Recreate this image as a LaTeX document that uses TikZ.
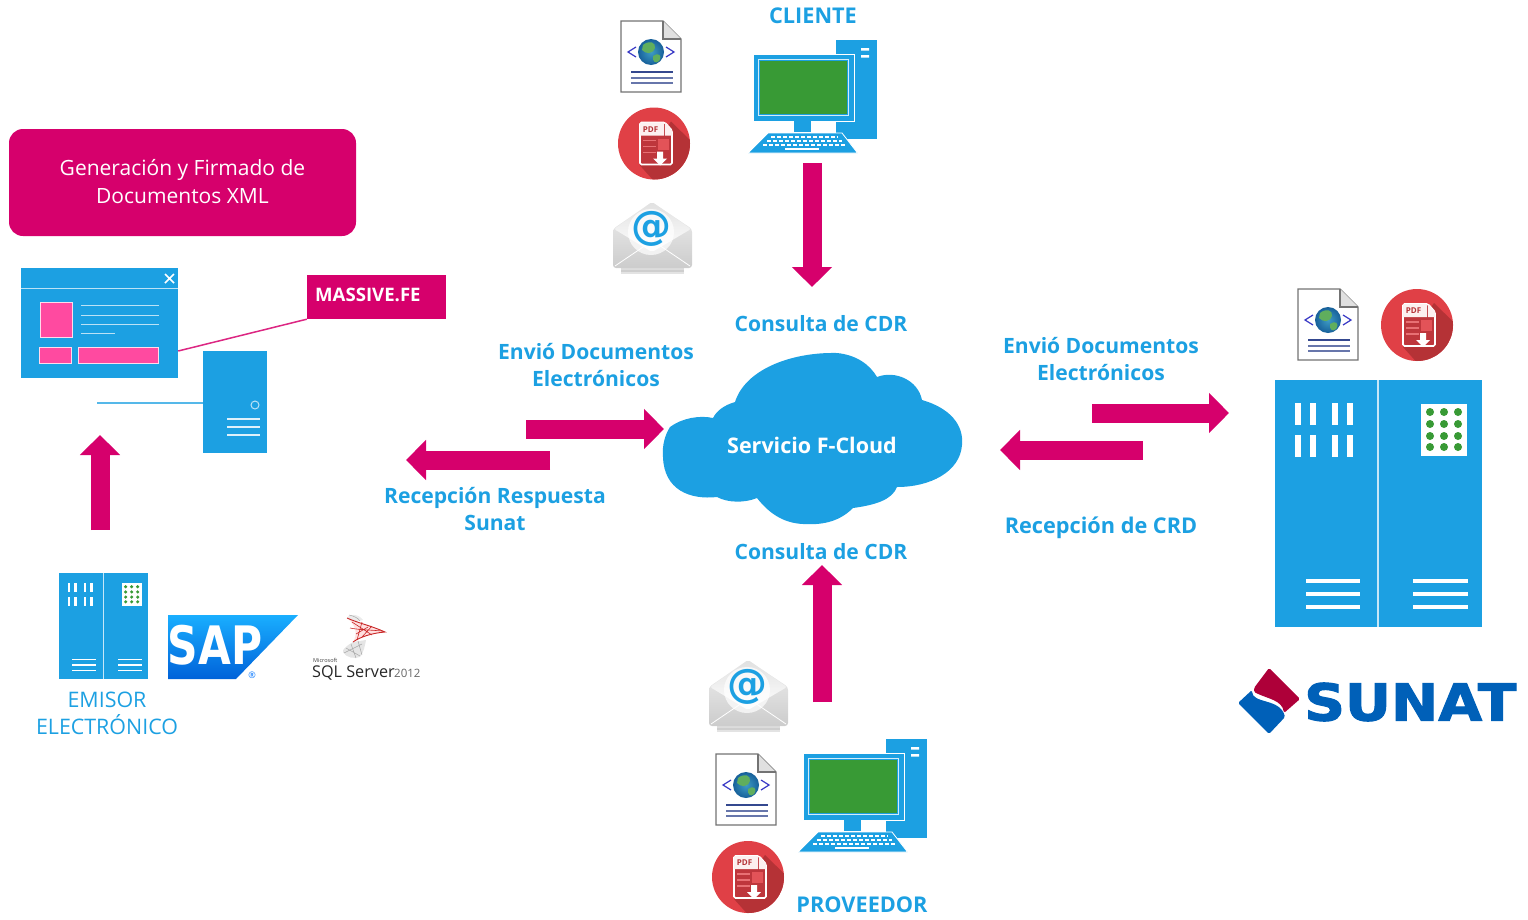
\documentclass[tikz,border=0pt]{standalone}
\usepackage{fontspec}
\setmainfont{Open Sans}
\newfontfamily\logofont{DejaVu Sans}
\newfontfamily\sunatfont[BoldFeatures={FakeBold=2}]{DejaVu Sans}
\usetikzlibrary{arrows.meta,calc}
\definecolor{fblue}{HTML}{1CA0E2}
\definecolor{fpink}{HTML}{D6006C}
\definecolor{flight}{HTML}{FF4AA0}
\definecolor{fgreen}{HTML}{389A35}
\definecolor{fred}{HTML}{E04046}
\definecolor{fdred}{HTML}{B53236}
\definecolor{fnavy}{HTML}{34488F}
\definecolor{sunatblue}{HTML}{0060B8}
\definecolor{sunatred}{HTML}{AE0039}
\definecolor{globein}{HTML}{3E9CC4}
\definecolor{globeout}{HTML}{17609A}
\tikzset{
	blockarrow/.style={draw=fpink, line width=19pt, -{Triangle[length=20pt, width=39pt, fill=fpink]}},
	bluelabel/.style={text=fblue, font=\fontsize{21.1}{27}\selectfont\bfseries, align=center, inner sep=0pt},
	capslabel/.style={text=fblue, font=\fontsize{21.7}{27}\selectfont\bfseries, align=center, inner sep=0pt},
	thinlabel/.style={text=fblue, font=\fontsize{21.4}{27}\selectfont, align=center, inner sep=0pt},
	whiteslat/.style={fill=white, draw=none},
	panelbox/.style={fill=flight, draw=white!80!flight, line width=0.8pt}
}
% document with globe, (#2,#3) is the top left corner
\def\xmlicon#1(#2,#3){
	\begin{scope}[shift={(#2,#3)}]
		\draw[fill=white, draw=black!55, line width=1.3pt] (0,0) -- (42,0) -- (60,18) -- (60,71) -- (0,71) -- cycle;
		\draw[fill=black!12, draw=black!55, line width=1.3pt] (42,0) -- (42,18) -- (60,18);
		\shade[inner color=globein, outer color=globeout] (30,31) circle (13);
		\fill[fgreen!80!white] (22,24) .. controls (28,19) and (35,21) .. (34,27) .. controls (31,34) and (25,33) .. (21,29) -- cycle;
		\fill[fgreen!80!white] (32,35) .. controls (37,31) and (42,34) .. (38,40) .. controls (35,43) and (31,41) .. (32,35) -- cycle;
		\draw[blue!55!gray, line width=1.2pt] (15,26) -- (7,31) -- (15,36);
		\draw[blue!55!gray, line width=1.2pt] (45,26) -- (53,31) -- (45,36);
		\foreach \ypos/\col in {51/fnavy, 57/fnavy!75, 62/fnavy!75}
			\draw[\col, line width=1.2pt] (10,\ypos) -- (52,\ypos);
	\end{scope}
}
% red circle with pdf, (#2,#3) is the centre
\def\pdficon#1(#2,#3){
	\begin{scope}[shift={(#2,#3)}]
		\fill[fred] (0,0) circle (36);
		\begin{scope}
			\clip (0,0) circle (36);
			\fill[fdred] (17,-22) -- (60,20) -- (20,60) -- (-14,22) -- cycle;
		\end{scope}
		\draw[fill=fred!85!black, draw=white, line width=1.6pt, rounded corners=1.5pt] (-14,-21) -- (11,-21) -- (18,-13) -- (18,21) -- (-14,21) -- cycle;
		\fill[white!92!fred] (-14,-21) rectangle (10,-8) (11,-21) -- (18,-13) -- (18,-8) -- (11,-8) -- cycle;
		\node[inner sep=0pt, text=fdred, font=\fontsize{8}{8}\selectfont\bfseries] (#1pdf) at (-3.5,-14) {PDF};
		\fill[fred!90!white] (4,-5) rectangle (15,6);
		\foreach \ypos in {-3,3,9}
			\draw[fred!75!white, line width=1.4pt] (-11,\ypos) -- (2,\ypos);
		\fill[white] (3,8) rectangle (9,15) (-1,15) -- (13,15) -- (6,22) -- cycle;
	\end{scope}
}
% open envelope, (#2,#3) is the top left corner
\def\mailicon#1(#2,#3){
	\begin{scope}[shift={(#2,#3)}]
		\foreach \ypos/\op in {66/0.25, 68/0.35, 70/0.2}
			\fill[black!55, opacity=\op] (8,\ypos) rectangle (71,\ypos+2);
		\shade[top color=black!6, bottom color=black!20, rounded corners=3pt] (0,27) -- (39,0) -- (79,27) -- (79,66) -- (0,66) -- cycle;
		\shade[top color=black!12, bottom color=white, rounded corners=2pt] (1,27) -- (39,0) -- (78,27) -- (39,50) -- cycle;
		\draw[white, line width=0.8pt] (2,64) -- (33,43) (77,64) -- (46,43);
		\fill[white, opacity=0.7] (38,30) circle (23);
		\node[inner sep=0pt, text=fblue, font=\logofont\fontsize{40}{40}\selectfont\bfseries] (#1at) at (38,27) {@};
	\end{scope}
}
% desktop computer, (#2,#3) is the top left corner
\def\pcicon(#1,#2){
	\begin{scope}[shift={(#1,#2)}]
		\fill[fblue] (88,0) rectangle (129,99);
		\fill[white] (113,8) rectangle (121,10.5) (113,15) rectangle (121,17.5);
		\fill[fblue, draw=white, line width=1pt] (5,14) rectangle (106,81);
		\draw[white!80!fblue, line width=1pt] (10,19) rectangle (100,75);
		\fill[fgreen] (12,21) rectangle (99,74);
		\fill[fblue] (46,81) rectangle (63,92);
		\fill[fblue, draw=white, line width=0.8pt] (20,93) -- (94,93) -- (109.5,113) -- (0,113) -- cycle;
		\foreach \ypos/\xa/\xb in {97/23/90, 101/19/94, 105/15/98}
			\draw[white, line width=2pt, dash pattern=on 4pt off 2pt] (\xa,\ypos) -- (\xb,\ypos);
		\draw[white, line width=2pt] (37,109) -- (71,109);
	\end{scope}
}
% rack with two doors
\def\rackicon[#1](#2,#3){
	\begin{scope}[shift={(#2,#3)}, scale=#1]
		\fill[fblue] (0,0) rectangle (207,247);
		\fill[white!75!fblue] (102.2,0) rectangle (104.2,247);
		\foreach \xpos in {20,35,57,72} {
			\fill[whiteslat] (\xpos,23) rectangle ++(6,22);
			\fill[whiteslat] (\xpos,55) rectangle ++(6,22);
		}
		\fill[whiteslat] (146,24) rectangle (192,76);
		\foreach \xpos in {155,169,183}
			\foreach \ypos in {32,44,56,67}
				\fill[fgreen] (\xpos,\ypos) circle (4);
		\foreach \ypos in {201,214,227} {
			\fill[whiteslat] (31,\ypos-2) rectangle (85,\ypos+2);
			\fill[whiteslat] (138,\ypos-2) rectangle (193,\ypos+2);
		}
	\end{scope}
}

\begin{document}
\begin{tikzpicture}[x=1pt, y=-1pt]
	%%%%% START %%%%%
	\useasboundingbox (0,0) rectangle (1528,919);
	
	\node[fill=fpink, rounded corners=14pt, minimum width=347pt, minimum height=107pt, inner sep=0pt] (genbox) at (182.5,182.5) {};
	\node[inner sep=0pt, text=white, align=center, font=\fontsize{21}{28}\selectfont] (gentext) at (182.5,181.5) {Generación y Firmado de\\Documentos XML};
	
	% emisor: window and tower
	\node[fill=fblue, minimum width=157pt, minimum height=110pt, inner sep=0pt] (window) at (99.5,323) {};
	\draw[white!70!fblue, line width=1pt] (window.west |- 0,288) -- (window.east |- 0,288);
	\draw[white, line width=1.6pt] (165,274) -- (174,283) (174,274) -- (165,283);
	\draw[panelbox] (40,302) rectangle (72,337);
	\draw[panelbox] (39,347) rectangle (71,363);
	\draw[panelbox] (78,347) rectangle (158,363);
	\foreach \ypos/\xend in {305/159, 315/159, 324/159, 333/115}
		\draw[white!70!fblue, line width=1pt] (81,\ypos) -- (\xend,\ypos);
	
	\node[fill=fpink, minimum width=139pt, minimum height=44pt, inner sep=0pt] (massive) at (376.5,297) {};
	\node[inner sep=0pt, anchor=west, text=white, font=\fontsize{18.6}{24}\selectfont\bfseries] (massivetext) at (315,295) {MASSIVE.FE};
	\draw[fpink!85!white, line width=1.5pt] (window.east |- 0,351) -- (massive.south west);
	
	\node[fill=fblue, minimum width=64pt, minimum height=102pt, inner sep=0pt] (tower) at (235,402) {};
	\coordinate (towerline) at (97,403);
	\draw[fblue!75!white, line width=1.2pt] (towerline) -- (towerline -| tower.west);
	\draw[white!70!fblue, line width=1pt] (255,405) circle (4);
	\foreach \ypos in {419,427,435}
		\fill[white!85!fblue] (227,\ypos-1.4) rectangle (260,\ypos+1.4);
	
	% emisor: rack and logos
	\rackicon[0.43](59,573)
	\shade[top color=cyan!65!blue!90, bottom color=blue!55!cyan!85!black] (168,615) -- (298,615) -- (236,679) -- (168,679) -- cycle;
	\node[inner sep=0pt, text=white, xscale=0.8, transform shape, font=\logofont\fontsize{53}{53}\selectfont\bfseries] (saptext) at (215,645) {SAP};
	\node[inner sep=0pt, text=blue!55!cyan, font=\fontsize{9}{9}\selectfont] (sapmark) at (252,675) {®};
	
	\fill[black!8] (347,618) .. controls (348,614) and (358,613) .. (363,620) -- (355,622) -- cycle;
	\fill[black!10] (353,642) .. controls (346,646) and (342,650) .. (343,652) .. controls (346,658) and (355,659) .. (360,657) .. controls (364,652) and (365,645) .. (366,640) -- cycle;
	\fill[red!12] (347,618) .. controls (358,623) and (372,626) .. (385,632) .. controls (372,633) and (360,637) .. (353,642) .. controls (358,634) and (356,625) .. (347,618) -- cycle;
	\draw[red!75!black!85, line width=0.9pt] (347,618) .. controls (358,623) and (372,626) .. (385,632) .. controls (372,633) and (360,637) .. (353,642);
	\draw[red!75!black!85, line width=0.6pt] (352,622) -- (372,635) (362,622) -- (357,640) (372,626) -- (362,637) (350,628) .. controls (360,630) and (372,630) .. (382,631) (356,634) -- (368,627);
	\draw[black!35, line width=0.5pt] (349,615) .. controls (354,616) and (358,618) .. (360,621) (346,648) -- (360,656) (344,653) -- (362,644) (351,644) -- (356,658) (358,641) -- (362,655);
	\node[inner sep=0pt, anchor=west, text=black!75, font=\fontsize{5.5}{5.5}\selectfont] (sqlbrand) at (313,660) {Microsoft};
	\node[inner sep=0pt, anchor=base west, text=black!85, font=\fontsize{16.2}{18}\selectfont] (sqltext) at (312,677) {SQL Server};
	\node[inner sep=0pt, anchor=base west, text=black!60, font=\fontsize{11.5}{12}\selectfont] (sqlyear) at (394,677) {2012};
	\node[thinlabel] (emisor) at (107,713) {EMISOR\\ELECTRÓNICO};
	
	% cliente
	\node[capslabel] (cliente) at (813,16) {CLIENTE};
	\xmlicon{cli}(621,21)
	\pdficon{cli}(654,143.5)
	\mailicon{cli}(613,202)
	\pcicon(748,40)
	\coordinate (clistart) at (812,163);
	\coordinate (clitip) at (812,287);
	\draw[blockarrow] (clistart) -- (clitip);
	\node[bluelabel] (consulta) at (821,324) {Consulta de CDR};
	
	% cloud
	\fill[fblue] (670,427) .. controls (682,418) and (700,415) .. (713,418)
		.. controls (717,410) and (725,405) .. (735,402)
		.. controls (745,370) and (790,352) .. (837,353)
		.. controls (857,355) and (870,365) .. (877,377)
		.. controls (895,370) and (918,380) .. (922,400)
		.. controls (950,408) and (964,425) .. (962,445)
		.. controls (960,472) and (930,487) .. (897,487)
		.. controls (892,500) and (875,505) .. (853,508)
		.. controls (838,523) and (820,525) .. (803,524)
		.. controls (782,523) and (768,512) .. (757,498)
		.. controls (745,503) and (728,503) .. (717,497)
		.. controls (690,500) and (664,490) .. (663,457)
		.. controls (662,445) and (665,435) .. (670,427) -- cycle;
	\node[inner sep=0pt, text=white, font=\fontsize{21.5}{27}\selectfont\bfseries] (cloud) at (812,445) {Servicio F-Cloud};
	
	% emisor to cloud
	\node[bluelabel] (envioleft) at (596,365) {Envió Documentos\\Electrónicos};
	\coordinate (envlstart) at (526,429);
	\coordinate (envltip) at (664,429);
	\draw[blockarrow] (envlstart) -- (envltip);
	\coordinate (reclstart) at (550,460);
	\coordinate (recltip) at (406,460);
	\draw[blockarrow] (reclstart) -- (recltip);
	\node[bluelabel] (recepleft) at (495,509.5) {Recepción Respuesta\\Sunat};
	\coordinate (emisorstart) at (100,530);
	\coordinate (emisortip) at (100,435);
	\draw[blockarrow] (emisorstart) -- (emisortip);
	
	% cloud to sunat
	\node[bluelabel] (envioright) at (1101,359) {Envió Documentos\\Electrónicos};
	\coordinate (envrstart) at (1092,413);
	\coordinate (envrtip) at (1229,413);
	\draw[blockarrow] (envrstart) -- (envrtip);
	\coordinate (recrstart) at (1143,450);
	\coordinate (recrtip) at (1000,450);
	\draw[blockarrow] (recrstart) -- (recrtip);
	\node[capslabel] (recepright) at (1101,528) {Recepción de CRD};
	
	% sunat
	\xmlicon{sun}(1298,289)
	\pdficon{sun}(1417,325)
	\rackicon[1](1275,380)
	\fill[sunatred, rounded corners=1.5pt] (1254,688) -- (1269,668) -- (1300,699) -- (1284,713) .. controls (1282,700) and (1268,699) .. (1254,692) -- cycle;
	\fill[sunatblue, rounded corners=1.5pt] (1238,703) -- (1252,690) .. controls (1252,704) and (1280,698) .. (1285,717) -- (1269,734) -- cycle;
	\node[inner sep=0pt, text=sunatblue, anchor=west, xscale=1.11, transform shape, font=\sunatfont\fontsize{51}{51}\selectfont\bfseries] (sunat) at (1304,702) {SUNAT};
	
	% proveedor
	\node[bluelabel] (consultab) at (821,552) {Consulta de CDR};
	\coordinate (provstart) at (822,702);
	\coordinate (provtip) at (822,565);
	\draw[blockarrow] (provstart) -- (provtip);
	\mailicon{prov}(709,660)
	\xmlicon{prov}(716,754)
	\pcicon(798,739)
	\pdficon{prov}(748,877)
	\node[capslabel] (proveedor) at (862,905) {PROVEEDOR};
	
	%%%%% END %%%%%
\end{tikzpicture}
\end{document}
